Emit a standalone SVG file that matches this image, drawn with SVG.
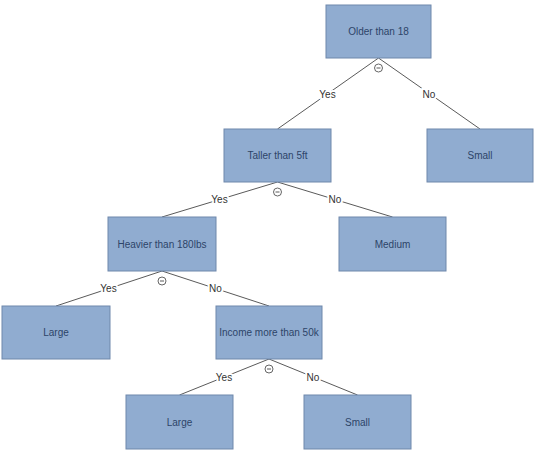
<svg xmlns="http://www.w3.org/2000/svg" width="540" height="455" viewBox="0 0 540 455">
<style>
.box{fill:#90acd0;stroke:#6f88ab;stroke-width:1}
.shadow{fill:#c8ccd2}
.t{font-family:"Liberation Sans",Arial,sans-serif;font-size:10px;fill:#2d4468;text-anchor:middle;dominant-baseline:central}
.e{stroke:#5a5a5a;stroke-width:1;fill:none}
.lbl{font-family:"Liberation Sans",Arial,sans-serif;font-size:10px;fill:#333;text-anchor:middle;dominant-baseline:central;stroke:#fff;stroke-width:4;paint-order:stroke}
.col{fill:#fff;stroke:#555;stroke-width:0.9}
</style>
<rect width="540" height="455" fill="#fff"/>
<g id="connectors">
<line class="e" x1="378.5" y1="58" x2="277.5" y2="129"/>
<line class="e" x1="378.5" y1="58" x2="480" y2="129"/>
<line class="e" x1="277.5" y1="182" x2="162" y2="217"/>
<line class="e" x1="277.5" y1="182" x2="392.5" y2="217"/>
<line class="e" x1="162" y1="271" x2="56" y2="306"/>
<line class="e" x1="162" y1="271" x2="269" y2="306"/>
<line class="e" x1="269" y1="359" x2="179.5" y2="395"/>
<line class="e" x1="269" y1="359" x2="357.5" y2="395"/>
<text class="lbl" x="327.5" y="94">Yes</text>
<text class="lbl" x="429" y="94">No</text>
<text class="lbl" x="219.5" y="199.5">Yes</text>
<text class="lbl" x="335" y="199.5">No</text>
<text class="lbl" x="108.5" y="288.5">Yes</text>
<text class="lbl" x="215.5" y="288.5">No</text>
<text class="lbl" x="224" y="377">Yes</text>
<text class="lbl" x="313" y="377">No</text>
<g id="collapse">
<circle class="col" cx="378.5" cy="68" r="4"/><line class="e" x1="376.5" y1="68" x2="380.5" y2="68"/>
<circle class="col" cx="277.5" cy="192" r="4"/><line class="e" x1="275.5" y1="192" x2="279.5" y2="192"/>
<circle class="col" cx="162" cy="281" r="4"/><line class="e" x1="160" y1="281" x2="164" y2="281"/>
<circle class="col" cx="269" cy="369" r="4"/><line class="e" x1="267" y1="369" x2="271" y2="369"/>
</g>
</g>
<g id="n-older"><rect class="box" x="326" y="5" width="105" height="53"/><text class="t" x="378.5" y="31.5">Older than 18</text></g>
<g id="n-small1"><rect class="box" x="427" y="129" width="106" height="53"/><text class="t" x="480" y="155.5">Small</text></g>
<g id="n-taller"><rect class="box" x="224" y="129" width="107" height="53"/><text class="t" x="277.5" y="155.5">Taller than 5ft</text></g>
<g id="n-heavier"><rect class="box" x="108" y="217" width="108" height="54"/><text class="t" x="162" y="244">Heavier than 180lbs</text></g>
<g id="n-medium"><rect class="box" x="339" y="217" width="107" height="54"/><text class="t" x="392.5" y="244">Medium</text></g>
<g id="n-large1"><rect class="box" x="2" y="306" width="108" height="53"/><text class="t" x="56" y="332.5">Large</text></g>
<g id="n-income"><rect class="box" x="216" y="306" width="106" height="53"/><text class="t" x="269" y="332.5">Income more than 50k</text></g>
<g id="n-large2"><rect class="box" x="126" y="395" width="107" height="54"/><text class="t" x="179.5" y="422">Large</text></g>
<g id="n-small2"><rect class="box" x="304" y="395" width="107" height="54"/><text class="t" x="357.5" y="422">Small</text></g>
</svg>
